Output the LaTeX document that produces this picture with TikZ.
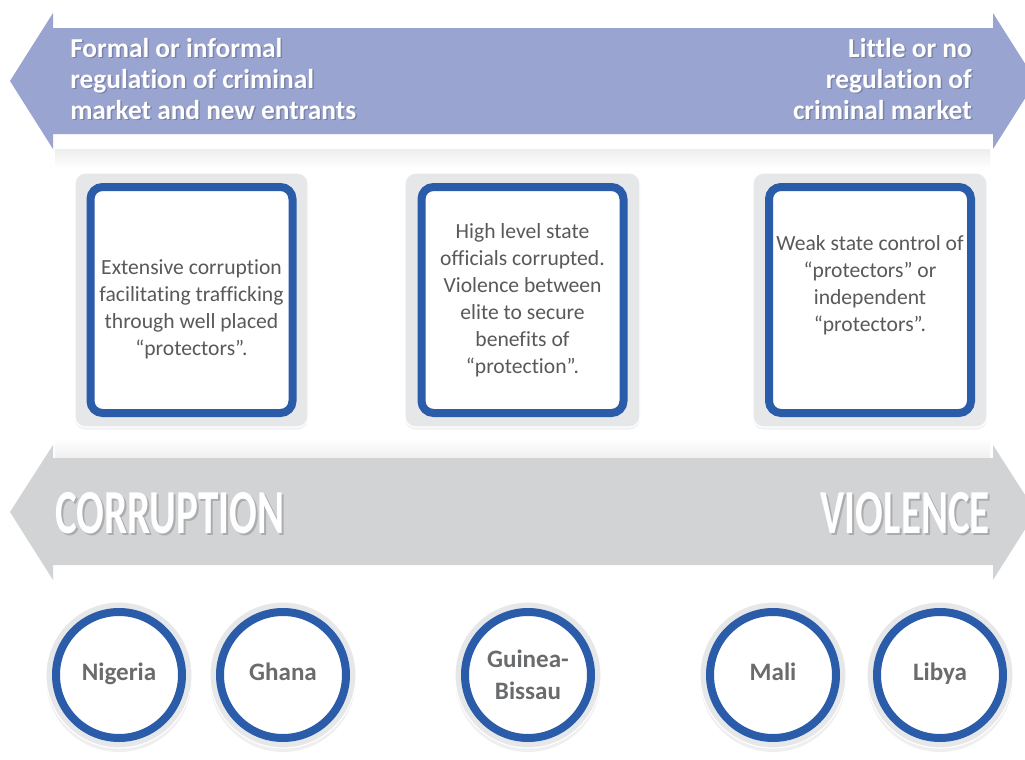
\documentclass[tikz,border=0pt]{standalone}
\usepackage{fontspec}
\setmainfont[Ligatures={NoCommon}]{Carlito}
\usetikzlibrary{shadows}
\definecolor{arrowblue}{HTML}{99A4D1}
\definecolor{arrowgrey}{HTML}{D2D3D5}
\definecolor{ringblue}{HTML}{2A5CAA}
\definecolor{framegrey}{HTML}{E6E7E9}
\definecolor{textgrey}{HTML}{58595B}
\definecolor{labelgrey}{HTML}{6A6B6D}
\begin{document}
\begin{tikzpicture}[x=0.75pt,y=-0.75pt,
  frame/.style={fill=framegrey, draw=white, line width=0.8pt, rounded corners=8pt,
    drop shadow={opacity=0.1, shadow xshift=0pt, shadow yshift=-2pt}},
  bluebox/.style={draw=ringblue, line width=6pt, fill=white, rounded corners=9pt,
    minimum width=151.5pt, minimum height=169.5pt, inner sep=0pt},
  boxtext/.style={text=textgrey, align=center, font=\fontsize{16.2}{20.2}\selectfont, inner sep=0pt},
  headtext/.style={text=white, font=\bfseries\fontsize{20.5}{23.25}\selectfont, inner sep=0pt},
  headshadow/.style={headtext, text=black, opacity=0.2},
  bigtext/.style={text=white, font=\bfseries\fontsize{47}{47}\selectfont, inner sep=0pt, xscale=0.655},
  bigshadow/.style={bigtext, text=black, opacity=0.18},
  disc/.style={circle, fill=framegrey, draw=white, line width=0.8pt, minimum size=109.5pt, inner sep=0pt,
    drop shadow={opacity=0.12, shadow xshift=0pt, shadow yshift=-3pt}},
  ringc/.style={circle, draw=ringblue, line width=6pt, fill=white, minimum size=94.5pt, inner sep=0pt},
  ctext/.style={text=labelgrey, align=center, font=\bfseries\fontsize{18.8}{24}\selectfont, inner sep=0pt}
]
\useasboundingbox (0,0) rectangle (1025,760);
\clip (0,0) rectangle (1025,760);
\fill[white] (0,0) rectangle (1025,760);

% soft shadow bands
\shade[top color=black!7, bottom color=white] (55,149) rectangle (990,168);
\shade[bottom color=black!6, top color=white] (55,438) rectangle (990,458);

% top arrow
\fill[arrowblue] (10,81) -- (53,13) -- (53,28) -- (993,28) -- (993,13) -- (1036,81)
  -- (993,149) -- (993,134) -- (53,134) -- (53,149) -- cycle;

% bottom arrow
\fill[arrowgrey] (10,512) -- (53,445) -- (53,458) -- (993,458) -- (993,445) -- (1036,512)
  -- (993,580) -- (993,565) -- (53,565) -- (53,580) -- cycle;

% top arrow texts
\node[headshadow, anchor=north west, align=left] at (71.5,39.5) {Formal or informal\\regulation of criminal\\market and new entrants};
\node[headtext, anchor=north west, align=left] (lefthead) at (70,38) {Formal or informal\\regulation of criminal\\market and new entrants};
\node[headshadow, anchor=north east, align=right] at (973.5,39.5) {Little or no\\regulation of\\criminal market};
\node[headtext, anchor=north east, align=right] (righthead) at (972,38) {Little or no\\regulation of\\criminal market};

% bottom arrow texts
\node[bigshadow, anchor=west] at (57,515) {CORRUPTION};
\node[bigtext, anchor=west] (corr) at (55,513) {CORRUPTION};
\node[bigshadow, anchor=east] at (992,515) {VIOLENCE};
\node[bigtext, anchor=east] (viol) at (990,513) {VIOLENCE};

% boxes
\node[frame, minimum width=174.75pt, minimum height=190.5pt] (f1) at (191.5,300) {};
\node[bluebox] (b1) at (f1) {};
\node[boxtext] (t1) at (191.5,309) {Extensive corruption\\facilitating trafficking\\through well placed\\“protectors”.};

\node[frame, minimum width=176.25pt, minimum height=190.5pt] (f2) at (522.5,300) {};
\node[bluebox] (b2) at (f2) {};
\node[boxtext] (t2) at (522.5,300) {High level state\\officials corrupted.\\Violence between\\elite to secure\\benefits of\\“protection”.};

\node[frame, minimum width=175.5pt, minimum height=190.5pt] (f3) at (870,300) {};
\node[bluebox] (b3) at (f3) {};
\node[boxtext] (t3) at (870,285) {Weak state control of\\“protectors” or\\independent\\“protectors”.};

% countries
\node[disc] (d1) at (119,675) {};
\node[ringc] (r1) at (d1) {};
\node[ctext, anchor=base] (nigeria) at (119,680) {Nigeria};
\node[disc] (d2) at (283,675) {};
\node[ringc] (r2) at (d2) {};
\node[ctext, anchor=base] (ghana) at (283,680) {Ghana};
\node[disc] (d3) at (528,675) {};
\node[ringc] (r3) at (d3) {};
\node[ctext, anchor=base] (guinea) at (528,667) {Guinea-};
\node[ctext, anchor=base] (bissau) at (528,699) {Bissau};
\node[disc] (d4) at (773,675) {};
\node[ringc] (r4) at (d4) {};
\node[ctext, anchor=base] (mali) at (773,680) {Mali};
\node[disc] (d5) at (940,675) {};
\node[ringc] (r5) at (d5) {};
\node[ctext, anchor=base] (libya) at (940,680) {Libya};
\end{tikzpicture}
\end{document}
